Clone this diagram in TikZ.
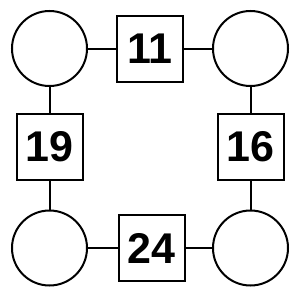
\documentclass[tikz,border=0pt]{standalone}
\usepackage{fontspec}
\setmainfont{Liberation Sans}
\begin{document}
\begin{tikzpicture}[x=1pt,y=-1pt,line width=2pt,
  blank/.style={draw,circle,minimum size=75pt,inner sep=0pt},
  numbox/.style={draw,rectangle,minimum size=66pt,inner sep=0pt,font=\fontsize{43}{43}\selectfont\bfseries}]
\useasboundingbox (0,0) rectangle (300,300);
\node[blank] (tl) at (49.5,48.5) {};
\node[blank] (tr) at (250.5,48.5) {};
\node[blank] (bl) at (49.5,248) {};
\node[blank] (br) at (250.5,248) {};
\node[numbox] (t) at (150,48.5) {11};
\node[numbox] (l) at (49.5,146.5) {19};
\node[numbox] (r) at (250.5,146.5) {16};
\node[numbox] (b) at (151.5,248) {24};
\draw (tl) -- (t) -- (tr);
\draw (tl) -- (l) -- (bl);
\draw (tr) -- (r) -- (br);
\draw (bl) -- (b) -- (br);
\end{tikzpicture}
\end{document}
